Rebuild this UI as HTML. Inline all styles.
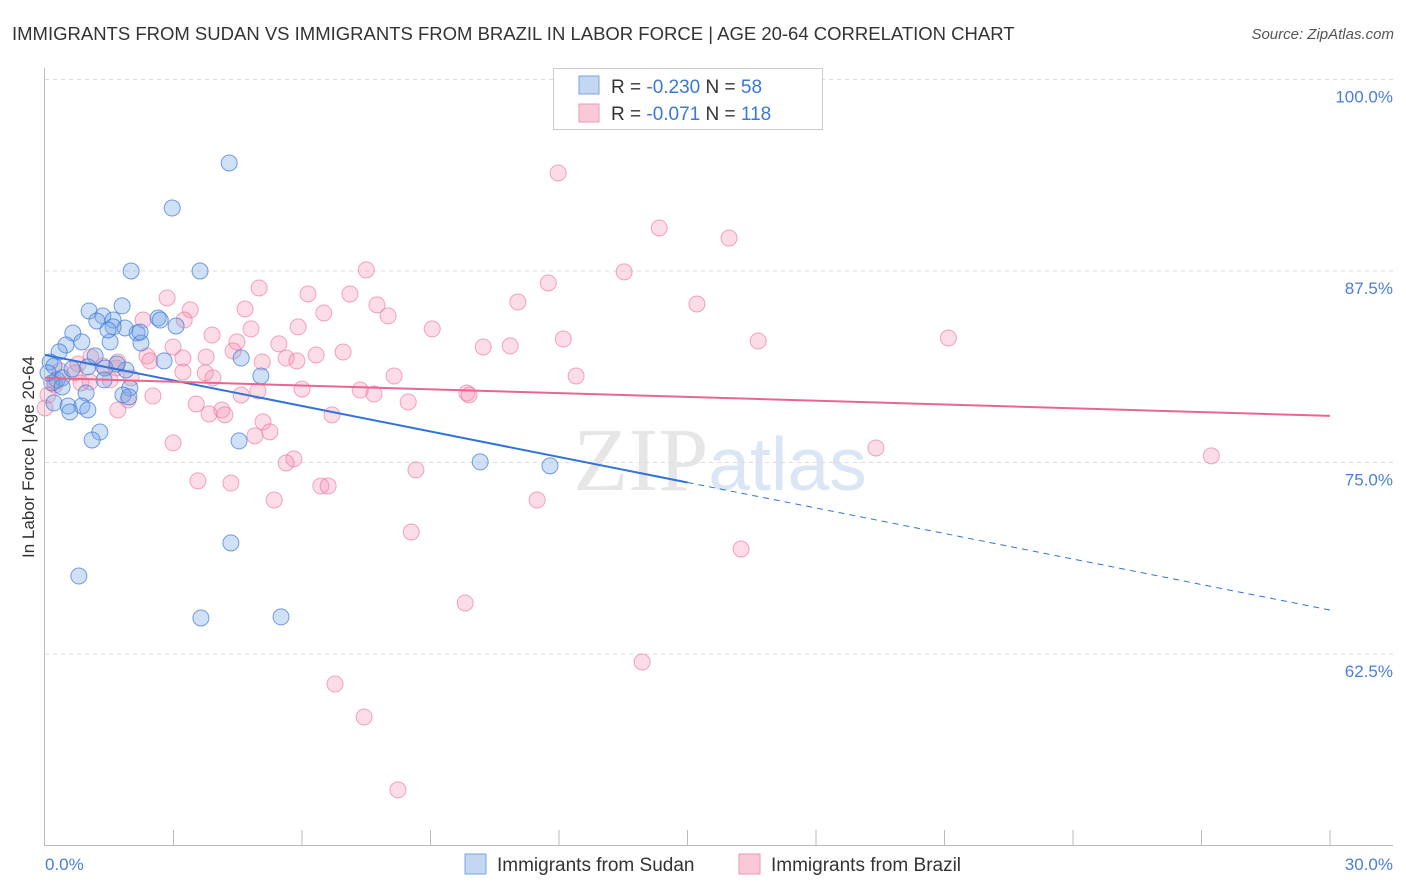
<!DOCTYPE html>
<html><head><meta charset="utf-8"><style>
body{margin:0;background:#fff;font-family:"Liberation Sans",sans-serif;}
svg{display:block}
</style></head><body>
<svg id="chart" width="1406" height="892">
<text x="12" y="40" font-size="18.5" fill="#333">IMMIGRANTS FROM SUDAN VS IMMIGRANTS FROM BRAZIL IN LABOR FORCE | AGE 20-64 CORRELATION CHART</text>
<text x="1394" y="39" font-size="15" fill="#555" font-style="italic" text-anchor="end">Source: ZipAtlas.com</text>
<text x="720" y="490" font-size="90" fill="#e6e6e6" text-anchor="middle" font-family="Liberation Serif,serif">ZIP<tspan fill="#dbe6f5" font-family="Liberation Sans,sans-serif" font-size="75">atlas</tspan></text>
<g id="grid"></g>
<g id="pts"></g>
<g id="lines"></g>
<line x1="44.5" y1="68" x2="44.5" y2="845" stroke="#bbb"/>
<line x1="44" y1="845.5" x2="1393" y2="845.5" stroke="#bbb"/>
<text transform="translate(34,457) rotate(-90)" font-size="17" fill="#333" text-anchor="middle">In Labor Force | Age 20-64</text>
<text x="45" y="870" font-size="17" fill="#4a7fd4">0.0%</text>
<text x="1393" y="870" font-size="17" fill="#4a7fd4" text-anchor="end">30.0%</text>
<g>
<rect x="553.5" y="68.5" width="269" height="61" fill="#fff" stroke="#ccc"/>
<rect x="579" y="76" width="20" height="18" fill="#c3d7f3" stroke="#7aa6e0"/>
<rect x="579" y="104" width="20" height="18" fill="#f9c9d7" stroke="#ee9ab4"/>
<text x="611" y="93" font-size="19" fill="#333">R = <tspan fill="#3b78d8">-0.230</tspan>   N = <tspan fill="#3b78d8"> 58</tspan></text>
<text x="611" y="120" font-size="19" fill="#333">R = <tspan fill="#3b78d8"> -0.071</tspan>   N = <tspan fill="#3b78d8">118</tspan></text>
</g>
<g>
<rect x="465" y="854" width="21" height="20" fill="#c3d7f3" stroke="#7aa6e0"/>
<text x="497" y="871" font-size="19" fill="#333">Immigrants from Sudan</text>
<rect x="739" y="854" width="21" height="20" fill="#f9c9d7" stroke="#ee9ab4"/>
<text x="771" y="871" font-size="19" fill="#333">Immigrants from Brazil</text>
</g>
</svg>
<script>
const yTicks=[100,87.5,75,62.5];
const yTickLabels=["100.0%","87.5%","75.0%","62.5%"];
const xTickVals=[3,6,9,12,15,18,21,24,27,30];
const sudanX=[4.30,2.97,2.01,3.62,1.80,1.03,1.35,1.21,1.59,2.64,3.06,1.87,2.15,0.65,1.59,0.86,0.49,1.52,2.24,0.33,1.17,2.78,4.58,0.12,0.21,1.89,1.00,1.40,5.04,0.28,0.40,1.38,0.16,1.98,1.82,0.96,0.21,0.54,0.86,1.00,0.58,1.28,1.10,4.53,10.16,11.79,4.34,0.79,3.64,5.51,2.69,1.47,1.96,0.40,0.07,2.22,1.68,0.63];
const sudanY=[94.55,91.61,87.50,87.50,85.22,84.89,84.56,84.24,84.30,84.43,83.91,83.78,83.45,83.45,83.85,82.87,82.67,82.87,82.80,82.22,81.96,81.63,81.82,81.56,81.30,81.04,81.24,81.17,80.65,80.39,80.52,80.39,80.19,79.86,79.41,79.54,78.89,78.69,78.69,78.43,78.30,76.99,76.47,76.41,75.04,74.78,69.75,67.59,64.85,64.92,84.30,83.65,79.28,79.93,80.85,83.52,81.43,81.10];
const brazilX=[11.98,14.34,15.97,7.50,13.52,11.75,5.00,2.85,6.14,7.12,3.39,11.04,15.22,7.75,6.51,8.01,4.67,2.29,3.25,9.04,4.81,5.91,3.90,12.10,16.65,21.09,4.48,5.46,10.86,10.23,6.96,6.33,3.76,2.38,3.22,5.63,2.99,4.39,1.07,1.70,5.07,5.88,1.66,0.77,1.35,8.15,12.40,3.22,3.74,3.92,0.70,2.01,0.23,0.84,6.00,7.36,4.97,7.68,9.85,9.90,8.48,2.52,3.53,3.83,4.13,4.20,4.58,1.94,1.70,6.70,5.09,5.25,4.90,2.99,0,0.23,0.07,19.40,27.23,8.66,5.81,5.63,6.44,6.61,3.57,4.34,5.35,11.49,8.55,16.25,9.81,13.94,6.77,7.45,8.24,1.05,1.52,2.45,0.35];
const brazilY=[93.90,90.31,89.65,87.57,87.44,86.72,86.39,85.74,86.00,86.00,84.96,85.48,85.35,85.29,84.76,84.57,85.02,84.30,84.30,83.72,83.72,83.85,83.32,83.06,82.93,83.13,82.87,82.74,82.61,82.54,82.21,82.02,81.89,81.95,81.82,81.82,82.54,82.28,81.89,81.56,81.56,81.63,81.17,81.43,81.30,80.65,80.65,80.91,80.85,80.52,80.85,80.52,80.26,80.19,79.80,79.73,79.67,79.47,79.54,79.41,78.95,79.34,78.82,78.17,78.43,78.11,79.41,79.08,78.43,78.11,77.65,77.00,76.74,76.28,78.56,80.06,79.41,75.95,75.43,74.52,75.24,74.97,73.47,73.47,73.80,73.66,72.55,72.55,70.46,69.35,65.83,61.98,60.54,58.39,53.63,80.26,80.39,81.63,80.98];
const sudanTrend=[82.02,65.37]; const sudanSolidEnd=15.0;
const brazilTrend=[80.52,78.04];
const NS="http://www.w3.org/2000/svg";
const X=v=>45+v/30*1285;
const Y=v=>79.5+(100-v)*15.32;
function mk(tag,attrs,parent){const e=document.createElementNS(NS,tag);for(const k in attrs)e.setAttribute(k,attrs[k]);parent.appendChild(e);return e;}
const grid=document.getElementById('grid');
yTicks.forEach((t,i)=>{
 const l=mk('line',{x1:45,x2:1393,y1:Y(t),y2:Y(t),stroke:'#ddd','stroke-dasharray':'4,4'},grid);
 
 
 const tx=mk('text',{x:1393,y:Y(t)+23,'font-size':17,fill:'#4a7fd4','text-anchor':'end'},grid);
 tx.textContent=yTickLabels[i];
 
 
});
xTickVals.forEach(t=>{
 const l=mk('line',{x1:X(t),x2:X(t),y1:830,y2:845,stroke:'#bbb'},grid);
 
 
});
const pts=document.getElementById('pts');
brazilX.forEach((x,i)=>{
 const c=mk('circle',{cx:X(x),cy:Y(brazilY[i]),r:8,fill:'rgba(244,143,177,0.3)',stroke:'rgba(234,110,150,0.6)','stroke-width':1},pts);
 
 
});
sudanX.forEach((x,i)=>{
 const c=mk('circle',{cx:X(x),cy:Y(sudanY[i]),r:8,fill:'rgba(120,165,230,0.35)',stroke:'rgba(60,120,215,0.7)','stroke-width':1},pts);
 
 
});
const lines=document.getElementById('lines');
const sAt=v=>sudanTrend[0]+(sudanTrend[1]-sudanTrend[0])*v/30;
let l1=mk('line',{x1:X(0),y1:Y(sAt(0)),x2:X(sudanSolidEnd),y2:Y(sAt(sudanSolidEnd)),stroke:'#2f74d8','stroke-width':2},lines);


let l2=mk('line',{x1:X(sudanSolidEnd),y1:Y(sAt(sudanSolidEnd)),x2:X(30),y2:Y(sAt(30)),stroke:'#2f74d8','stroke-width':1,'stroke-dasharray':'6,5'},lines);


let l3=mk('line',{x1:X(0),y1:Y(brazilTrend[0]),x2:X(30),y2:Y(brazilTrend[1]),stroke:'#e8668f','stroke-width':2},lines);


</script>
</body></html>
